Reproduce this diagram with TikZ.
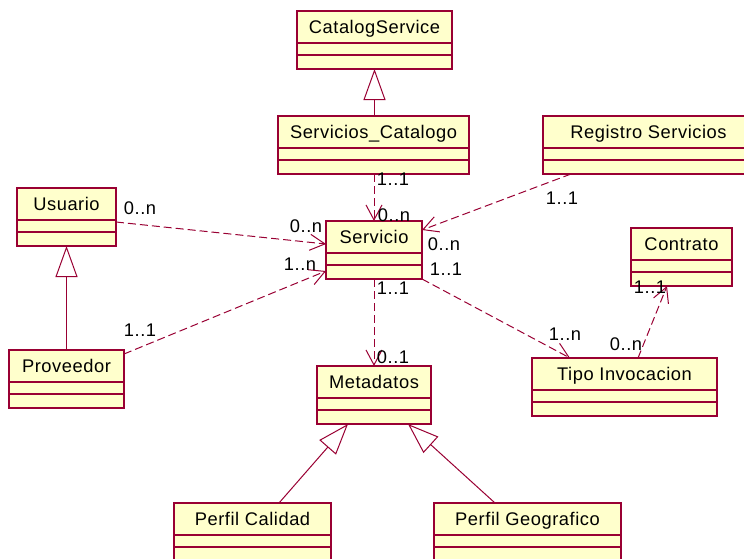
\documentclass[tikz,border=0pt]{standalone}
\usepackage{fontspec}
\setmainfont[LetterSpace=3]{Liberation Sans}
\usetikzlibrary{arrows.meta}

\definecolor{umlred}{RGB}{153,0,51}
\definecolor{umlfill}{RGB}{255,255,204}

\tikzset{
  classbox/.style={draw=umlred, fill=umlfill, line width=1.4pt, rectangle,
    minimum height=58pt, inner sep=0pt, outer sep=0pt},
  classname/.style={anchor=base, inner sep=0pt, font=\fontsize{18.3}{21}\selectfont},
  classline/.style={draw=umlred, line width=1.1pt},
  mult/.style={inner sep=0pt, font=\fontsize{18.3}{21}\selectfont},
  assoc/.style={draw=umlred, line width=1pt, dash pattern=on 8pt off 4pt,
    -{Straight Barb[length=15pt, width=16pt, line width=1pt]}},
  inherit/.style={draw=umlred, line width=1pt,
    -{Triangle[open, fill=white, length=31pt, width=22pt, line width=1pt]}},
}

% class box: name, left x, top y, width, title
\newcommand{\umlclass}[5]{%
  \node[classbox, minimum width=#4pt, anchor=north west] (#1) at (#2,#3) {};
  \node[classname] (#1-name) at ([yshift=-22.5pt]#1.north) {#5};
  \draw[classline] ([yshift=-32pt]#1.north west) -- ([yshift=-32pt]#1.north east);
  \draw[classline] ([yshift=-44pt]#1.north west) -- ([yshift=-44pt]#1.north east);
}

\begin{document}
\begin{tikzpicture}[x=1pt, y=-1pt]
  \useasboundingbox (0,0) rectangle (744,558);

  % classes
  \umlclass{cat}{297}{11}{155}{CatalogService}
  \umlclass{sc}{278}{116}{191}{Servicios\_Catalogo}
  \umlclass{reg}{543}{116}{211}{Registro Servicios}
  \umlclass{usu}{17}{188}{99}{Usuario}
  \umlclass{svc}{326}{221}{96}{Servicio}
  \umlclass{con}{631}{228}{101}{Contrato}
  \umlclass{prov}{9}{350}{115}{Proveedor}
  \umlclass{tipo}{532}{358}{185}{Tipo Invocacion}
  \umlclass{meta}{317}{366}{114}{Metadatos}
  \umlclass{pc}{174}{503}{157}{Perfil Calidad}
  \umlclass{pg}{434}{503}{187}{Perfil Geografico}

  % generalizations
  \draw[inherit] (cat.south |- sc.north) -- (cat.south);
  \draw[inherit] (prov.north) -- (usu.south);
  \draw[inherit] ([xshift=105pt]pc.north west) -- ([xshift=31pt]meta.south west);
  \draw[inherit] ([xshift=61pt]pg.north west) -- ([xshift=91pt]meta.south west);

  % associations
  \draw[assoc] (svc.north |- sc.south) -- (svc.north);
  \draw[assoc] ([xshift=28pt]reg.south west) -- ([yshift=-9pt]svc.north east);
  \draw[assoc] ([yshift=-34pt]usu.north east) -- ([yshift=-23pt]svc.north west);
  \draw[assoc] ([yshift=-4pt]prov.north east) -- ([yshift=-50pt]svc.north west);
  \draw[assoc] (svc.south) -- (svc.south |- meta.north);
  \draw[assoc] (svc.south east) -- ([xshift=38pt]tipo.north west);
  \draw[assoc] ([xshift=106pt]tipo.north west) -- ([xshift=36pt]con.south west);

  % multiplicities
  \node[mult] (m1) at (393,179) {1..1};
  \node[mult] (m2) at (394,215) {0..n};
  \node[mult] (m3) at (140,208) {0..n};
  \node[mult] (m4) at (306,226) {0..n};
  \node[mult] (m5) at (300,264) {1..n};
  \node[mult] (m6) at (393,288) {1..1};
  \node[mult] (m7) at (444,244) {0..n};
  \node[mult] (m8) at (446,269) {1..1};
  \node[mult] (m9) at (562,198) {1..1};
  \node[mult] (m10) at (650,287) {1..1};
  \node[mult] (m11) at (565,334) {1..n};
  \node[mult] (m12) at (626,344) {0..n};
  \node[mult] (m13) at (140,330) {1..1};
  \node[mult] (m14) at (393,357) {0..1};
\end{tikzpicture}
\end{document}
